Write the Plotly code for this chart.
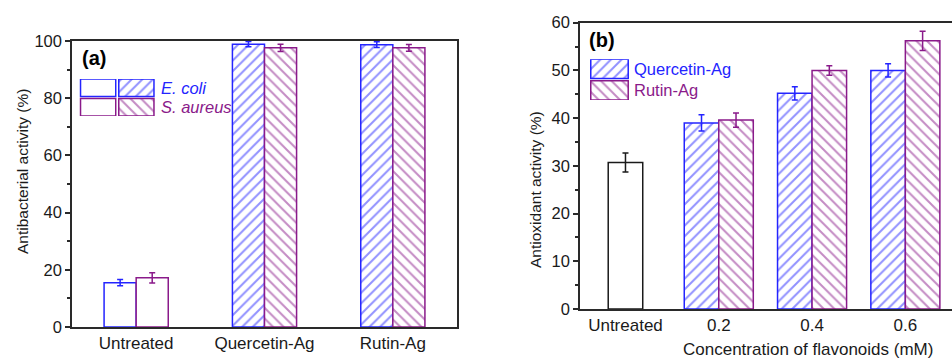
import plotly.graph_objects as go

# ---------------- data ----------------
cats_a = ["Untreated", "Quercetin-Ag", "Rutin-Ag"]
ecoli = [15.5, 98.9, 98.7]
ecoli_err = [1.1, 0.9, 1.0]
saureus = [17.2, 97.6, 97.6]
saureus_err = [1.8, 1.3, 1.2]

conc = [0.2, 0.4, 0.6]
conc_labels = ["Untreated", "0.2", "0.4", "0.6"]
untreated_b = [30.7]
untreated_b_err = [2.0]
quercetin = [39.0, 45.2, 50.0]
quercetin_err = [1.7, 1.4, 1.4]
rutin = [39.6, 50.0, 56.2]
rutin_err = [1.5, 1.0, 2.0]

BLUE = "#2424ff"
PURPLE = "#8a1a8a"
BLACK = "#1a1a1a"
AX = "#2a2a2a"
FONT = "Liberation Sans, Arial, sans-serif"

W, H = 952, 360
def px(x): return x / W
def py(y): return 1 - y / H

fig = go.Figure()

# ---------------- panel (a) ----------------
xa = list(range(len(cats_a)))
bw_a = 0.25
def pat(color, shape):
    return dict(shape=shape, fgcolor=color, bgcolor="white", size=7.5, solidity=0.27, fillmode="overlay")

fig.add_trace(go.Bar(x=[xa[0]], y=[ecoli[0]], width=bw_a, offset=-bw_a,
                     marker=dict(color="white", line=dict(color=BLUE, width=1.5)),
                     error_y=dict(type="data", array=[ecoli_err[0]], color=BLUE, thickness=1.5, width=3),
                     xaxis="x", yaxis="y", showlegend=False))
fig.add_trace(go.Bar(x=[xa[0]], y=[saureus[0]], width=bw_a, offset=0,
                     marker=dict(color="white", line=dict(color=PURPLE, width=1.5)),
                     error_y=dict(type="data", array=[saureus_err[0]], color=PURPLE, thickness=1.5, width=3),
                     xaxis="x", yaxis="y", showlegend=False))
fig.add_trace(go.Bar(x=xa[1:], y=ecoli[1:], width=bw_a, offset=-bw_a,
                     marker=dict(color="white", line=dict(color=BLUE, width=1.5), pattern=pat(BLUE, "/")),
                     error_y=dict(type="data", array=ecoli_err[1:], color=BLUE, thickness=1.5, width=3),
                     xaxis="x", yaxis="y", showlegend=False))
fig.add_trace(go.Bar(x=xa[1:], y=saureus[1:], width=bw_a, offset=0,
                     marker=dict(color="white", line=dict(color=PURPLE, width=1.5), pattern=pat(PURPLE, "\\")),
                     error_y=dict(type="data", array=saureus_err[1:], color=PURPLE, thickness=1.5, width=3),
                     xaxis="x", yaxis="y", showlegend=False))

# ---------------- panel (b) ----------------
bw_b = 0.074
fig.add_trace(go.Bar(x=[0], y=untreated_b, width=bw_b, offset=-bw_b / 2,
                     marker=dict(color="white", line=dict(color=BLACK, width=1.5)),
                     error_y=dict(type="data", array=untreated_b_err, color=BLACK, thickness=1.5, width=3),
                     xaxis="x2", yaxis="y2", showlegend=False))
fig.add_trace(go.Bar(x=conc, y=quercetin, width=bw_b, offset=-bw_b,
                     marker=dict(color="white", line=dict(color=BLUE, width=1.5), pattern=pat(BLUE, "/")),
                     error_y=dict(type="data", array=quercetin_err, color=BLUE, thickness=1.5, width=3),
                     xaxis="x2", yaxis="y2", showlegend=False))
fig.add_trace(go.Bar(x=conc, y=rutin, width=bw_b, offset=0,
                     marker=dict(color="white", line=dict(color=PURPLE, width=1.5), pattern=pat(PURPLE, "\\")),
                     error_y=dict(type="data", array=rutin_err, color=PURPLE, thickness=1.5, width=3),
                     xaxis="x2", yaxis="y2", showlegend=False))

# ---------------- legend swatches (mini axes) ----------------
for col, hatched in [(0, False), (1, True)]:
    for base, color, shape in [(1.06, BLUE, "/"), (0.0, PURPLE, "\\")]:
        m = dict(color="white", line=dict(color=color, width=1.5))
        if hatched:
            m["pattern"] = pat(color, shape)
        fig.add_trace(go.Bar(x=[col], y=[0.94], base=[base], width=0.92, marker=m,
                             xaxis="x3", yaxis="y3", showlegend=False, hoverinfo="skip"))
for base, color, shape in [(1.06, BLUE, "/"), (0.0, PURPLE, "\\")]:
    fig.add_trace(go.Bar(x=[0], y=[0.94], base=[base], width=0.96,
                         marker=dict(color="white", line=dict(color=color, width=1.5), pattern=pat(color, shape)),
                         xaxis="x4", yaxis="y4", showlegend=False, hoverinfo="skip"))

ytickfont = dict(family=FONT, size=16.5, color=BLACK)
xtickfont = dict(family=FONT, size=17, color=BLACK)
axline = dict(showline=True, linecolor=AX, linewidth=1.5, showgrid=False, zeroline=False, automargin=False)

fig.update_layout(
    width=W, height=H, autosize=False,
    margin=dict(l=0, r=0, t=0, b=0, pad=0, autoexpand=False),
    paper_bgcolor="white", plot_bgcolor="white",
    barmode="overlay", showlegend=False,
    font=dict(family=FONT, color=BLACK),
    xaxis=dict(domain=[px(72), px(457)], range=[-0.5, 2.5], tickvals=xa, ticktext=cats_a,
               ticks="", tickfont=xtickfont, mirror=True, anchor="y", **axline),
    yaxis=dict(domain=[py(327), py(41)], range=[0, 100], tickvals=[0, 20, 40, 60, 80, 100],
               ticks="outside", ticklen=5, tickwidth=1.5, tickcolor=AX, tickfont=ytickfont,
               minor=dict(tickvals=[10, 30, 50, 70, 90], ticks="outside", ticklen=3, tickwidth=1.5, tickcolor=AX),
               mirror=True, anchor="x", **axline),
    xaxis2=dict(domain=[px(580), 1.0], range=[-0.0975, 0.70], tickvals=[0] + conc, ticktext=conc_labels,
                ticks="", tickfont=xtickfont, mirror=True, anchor="y2", **axline),
    yaxis2=dict(domain=[py(309), py(22.7)], range=[0, 60], tickvals=[0, 10, 20, 30, 40, 50, 60],
                ticks="outside", ticklen=5, tickwidth=1.5, tickcolor=AX, tickfont=ytickfont,
                minor=dict(tickvals=[5, 15, 25, 35, 45, 55], ticks="outside", ticklen=3, tickwidth=1.5, tickcolor=AX),
                mirror=False, anchor="x2", **axline),
    xaxis3=dict(domain=[px(79), px(155.5)], range=[-0.5, 1.5], visible=False, anchor="y3", fixedrange=True),
    yaxis3=dict(domain=[py(116), py(79)], range=[0, 2], visible=False, anchor="x3", fixedrange=True),
    xaxis4=dict(domain=[px(590), px(629)], range=[-0.5, 0.5], visible=False, anchor="y4", fixedrange=True),
    yaxis4=dict(domain=[py(100), py(59.3)], range=[0, 2], visible=False, anchor="x4", fixedrange=True),
)

ann = [
    dict(text="<b>(a)</b>", x=px(80), y=py(58), xanchor="left", yanchor="middle",
         font=dict(size=20, color="black")),
    dict(text="<b>(b)</b>", x=px(587), y=py(40), xanchor="left", yanchor="middle",
         font=dict(size=20, color="black")),
    dict(text="<i>E. coli</i>", x=px(159), y=py(87.5), xanchor="left", yanchor="middle",
         font=dict(size=16.5, color=BLUE)),
    dict(text="<i>S. aureus</i>", x=px(159), y=py(107), xanchor="left", yanchor="middle",
         font=dict(size=16.5, color=PURPLE)),
    dict(text="Quercetin-Ag", x=px(632), y=py(69), xanchor="left", yanchor="middle",
         font=dict(size=16.5, color=BLUE)),
    dict(text="Rutin-Ag", x=px(632), y=py(90), xanchor="left", yanchor="middle",
         font=dict(size=16.5, color=PURPLE)),
    dict(text="Antibacterial activity (%)", x=px(22), y=py(172), textangle=-90,
         xanchor="center", yanchor="middle", font=dict(size=15.5, color=BLACK)),
    dict(text="Antioxidant activity (%)", x=px(535), y=py(190), textangle=-90,
         xanchor="center", yanchor="middle", font=dict(size=15.5, color=BLACK)),
    dict(text="Concentration of flavonoids (mM)", x=px(808), y=0, xanchor="center",
         yanchor="bottom", font=dict(size=17, color=BLACK), borderpad=0),
]
for a in ann:
    a.update(xref="paper", yref="paper", showarrow=False)
fig.update_layout(annotations=ann)

fig.write_html("out.html")
